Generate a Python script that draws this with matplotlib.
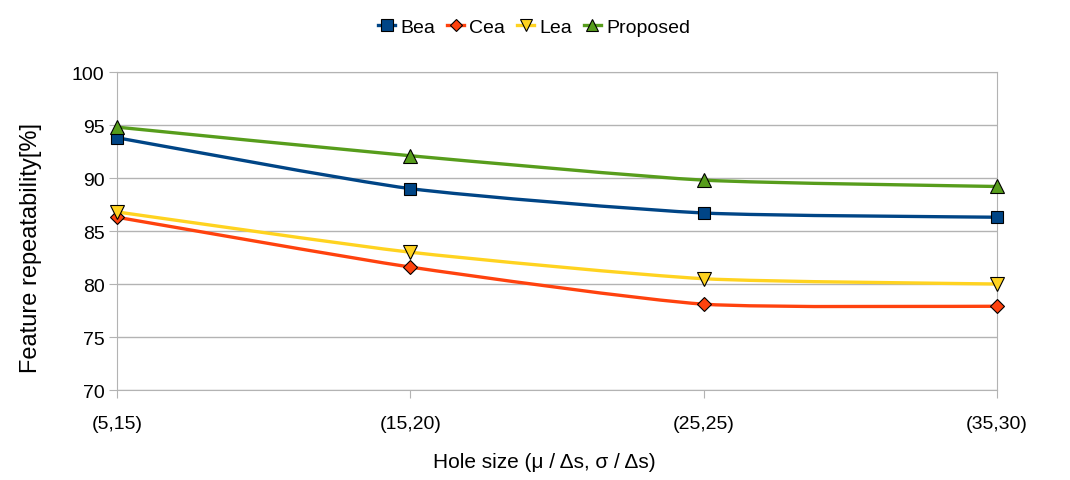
import matplotlib.pyplot as plt
from matplotlib.path import Path
from matplotlib.patches import PathPatch
from matplotlib.lines import Line2D

plt.rcParams['font.family'] = ['Liberation Sans', 'DejaVu Sans']

# data
categories = ['(5,15)', '(15,20)', '(25,25)', '(35,30)']
bea = [93.8, 89.0, 86.7, 86.3]
cea = [86.3, 81.6, 78.1, 77.9]
lea = [86.8, 83.0, 80.5, 80.0]
proposed = [94.8, 92.1, 89.8, 89.2]

series = [
    ('Bea', bea, '#004586', 's', 9),
    ('Cea', cea, '#ff420e', 'D', 7),
    ('Lea', lea, '#ffd320', 'v', 10),
    ('Proposed', proposed, '#579d1c', '^', 10),
]


def smooth_path(xs, ys, k=0.1):
    # soft bezier through the points, like the spline in the original
    verts = [(xs[0], ys[0])]
    codes = [Path.MOVETO]
    n = len(xs)
    for i in range(n - 1):
        x0, y0 = (xs[i - 1], ys[i - 1]) if i > 0 else (xs[i], ys[i])
        x1, y1 = xs[i], ys[i]
        x2, y2 = xs[i + 1], ys[i + 1]
        x3, y3 = (xs[i + 2], ys[i + 2]) if i + 2 < n else (x2, y2)
        c1 = (x1 + (x2 - x0) * k, y1 + (y2 - y0) * k)
        c2 = (x2 - (x3 - x1) * k, y2 - (y3 - y1) * k)
        verts += [c1, c2, (x2, y2)]
        codes += [Path.CURVE4] * 3
    return Path(verts, codes)


fig = plt.figure(figsize=(10.7, 4.81), dpi=100)
ax = fig.add_axes([0.1093, 0.1871, 0.8225, 0.6611])

x = list(range(len(categories)))
handles = []
for name, vals, color, marker, ms in series:
    patch = PathPatch(smooth_path(x, vals), facecolor='none', edgecolor=color,
                      linewidth=2.4, zorder=3, capstyle='round')
    ax.add_patch(patch)
    ax.plot(x, vals, linestyle='none', marker=marker, markersize=ms, clip_on=False,
            markerfacecolor=color, markeredgecolor='black', markeredgewidth=0.8, zorder=4)
    handles.append(Line2D([], [], color=color, linewidth=2.4, marker=marker, markersize=ms - 1,
                          markerfacecolor=color, markeredgecolor='black',
                          markeredgewidth=0.8, label=name))

ax.set_xlim(0, 3)
ax.set_ylim(70, 100)
ax.set_yticks(range(70, 101, 5))
ax.set_xticks(x)
ax.set_xticklabels(categories)
ax.yaxis.grid(True, color='#b3b3b3', linewidth=1)
ax.set_axisbelow(True)
for s in ax.spines.values():
    s.set_color('#b3b3b3')
ax.tick_params(axis='both', colors='#b3b3b3', labelcolor='black', labelsize=14, length=6)
ax.tick_params(axis='x', pad=12)
ax.tick_params(axis='y', pad=3)

ax.set_xlabel('Hole size (μ / Δs, σ / Δs)', fontsize=15)
ax.xaxis.set_label_coords(0.486, -0.195)
ax.set_ylabel('Feature repeatability[%]', fontsize=17)
ax.yaxis.set_label_coords(-0.085, 0.45)

fig.legend(handles=handles, loc='center', bbox_to_anchor=(0.499, 0.942), ncol=4,
           frameon=False, fontsize=14, handlelength=0.9, handletextpad=0.25,
           columnspacing=0.6)

fig.savefig('out.png', dpi=100)
